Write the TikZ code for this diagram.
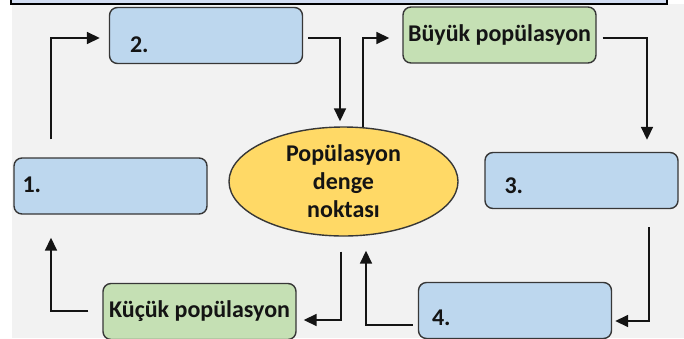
\documentclass[tikz,border=0pt]{standalone}
\usepackage{fontspec}
\setmainfont{Carlito}
\usetikzlibrary{arrows.meta,shapes.geometric}
\definecolor{panelgray}{RGB}{242,242,242}
\definecolor{bandblue}{RGB}{210,221,242}
\definecolor{stageblue}{RGB}{189,215,238}
\definecolor{sizegreen}{RGB}{197,224,180}
\definecolor{pointyellow}{RGB}{255,217,102}
\definecolor{edgegray}{RGB}{55,55,55}
\definecolor{inkblack}{RGB}{20,20,20}
\tikzset{
  stage/.style={draw=edgegray, fill=stageblue, line width=1.4pt,
    rounded corners=8pt, minimum width=193pt, minimum height=56pt,
    inner sep=0pt},
  sizebox/.style={stage, fill=sizegreen, text=inkblack,
    font=\bfseries\fontsize{24}{28}\selectfont},
  tag/.style={anchor=base west, inner sep=0pt, text=inkblack,
    font=\bfseries\fontsize{24}{28}\selectfont},
  flow/.style={inkblack, line width=1.7pt,
    -{Triangle[length=13pt,width=12pt]}}
}

\begin{document}
\begin{tikzpicture}[x=1pt,y=-1pt]
  % Frame
  \useasboundingbox (0,0) rectangle (684,338);
  \clip (0,0) rectangle (684,338);
  \fill[panelgray] (12,4) rectangle (684,338);
  \draw[fill=bandblue,line width=1.5pt] (11,-6) rectangle (667,4);

  % Stages and equilibrium point
  \node[ellipse,draw=edgegray,fill=pointyellow,line width=1.4pt,
    minimum width=229pt,minimum height=109pt,inner sep=0pt,align=center,
    text=inkblack,font=\bfseries\fontsize{24}{28}\selectfont]
    (eq) at (343.5,181.5) {Popülasyon\\denge\\noktası};
  \node[stage,label={[tag,xshift=9pt,yshift=-6pt]west:1.}]
    (b1) at (110.5,186) {};
  \node[stage,label={[tag,xshift=21pt,yshift=-16.5pt]west:2.}]
    (b2) at (206,35.5) {};
  \node[sizebox] (big) at (499.5,35) {Büyük popülasyon};
  \node[stage,label={[tag,xshift=20pt,yshift=-12.5pt]west:3.}]
    (b3) at (581.5,180.5) {};
  \node[stage,label={[tag,xshift=14pt,yshift=-14.5pt]west:4.}]
    (b4) at (515,310.5) {};
  \node[sizebox] (small) at (199.5,311.5) {Küçük popülasyon};

  % Cycle
  \draw[flow,shorten <=18pt,shorten >=9pt]
    ([xshift=-59.5pt]b1.north) |- ([yshift=-2.5pt]b2.west);
  \draw[flow,shorten <=5pt,shorten >=5pt]
    ([yshift=-2.5pt]b2.east) -| ([xshift=-3.5pt]eq.north);
  \draw[flow,shorten >=13pt]
    ([xshift=19.5pt,yshift=-0.8pt]eq.north) |- ([yshift=-3pt]big.west);
  \draw[flow,shorten <=6pt,shorten >=12pt]
    ([yshift=-3pt]big.east) -| ([xshift=65.5pt]b3.north);
  \draw[flow,shorten <=18pt,shorten >=3pt]
    ([xshift=67.5pt]b3.south) |- ([yshift=-10.5pt]b4.east);
  \draw[flow,shorten <=5pt,shorten >=14pt]
    ([yshift=-14.5pt]b4.west) -| ([xshift=22.5pt]eq.south);
  \draw[flow,shorten <=15pt,shorten >=7pt]
    ([xshift=-2.5pt]eq.south) |- ([yshift=-8.5pt]small.east);
  \draw[flow,shorten <=14pt,shorten >=23pt]
    ([yshift=0.5pt]small.west) -| ([xshift=-59.5pt]b1.south);
\end{tikzpicture}
\end{document}
